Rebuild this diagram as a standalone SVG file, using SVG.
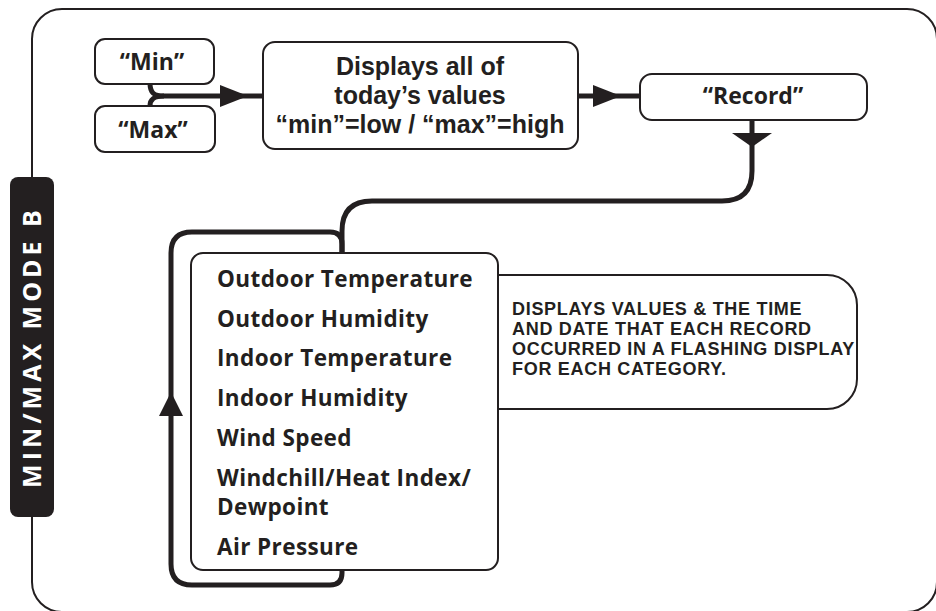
<svg xmlns="http://www.w3.org/2000/svg" width="936" height="611" viewBox="0 0 936 611">
<style>
.box{fill:#fff;stroke:#231f20;stroke-width:2}
.t{font-family:"Open Sans","Liberation Sans",Arial,sans-serif;font-weight:700;fill:#231f20}
.m{font-family:"Liberation Sans",Arial,sans-serif;font-weight:700;fill:#231f20;font-size:25px;text-anchor:middle}
.n{font-family:"Liberation Sans",Arial,sans-serif;font-weight:700;fill:#231f20;font-size:18px;letter-spacing:0.7px}
.c{text-anchor:middle}
.con{fill:none;stroke:#231f20;stroke-width:5;stroke-linecap:butt}
.ah{fill:#231f20}
</style>
<rect x="32" y="9" width="905" height="603" rx="30" fill="#fff" stroke="#231f20" stroke-width="2"/>
<g id="side-label">
<rect x="10" y="177" width="44" height="340" rx="8" fill="#231f20"/>
<text class="t c" transform="translate(41,347) rotate(-90)" font-size="25" letter-spacing="4" style="fill:#fff">MIN/MAX MODE B</text>
</g>
<g id="connectors">
<path class="con" d="M150,83 C150,93 154,96 164,96 L228,96"/>
<path class="con" d="M150,106 C150,99 154,96 164,96"/>
<polygon class="ah" points="220,85 248,96 220,107"/>
<line class="con" x1="240" y1="96" x2="263" y2="96"/>
<line class="con" x1="578" y1="96" x2="640" y2="96"/>
<polygon class="ah" points="593,85 621,96 593,107"/>
<path class="con" d="M752,120 L752,171 Q752,201 722,201 L372,201 Q342,201 342,231 L342,253"/>
<polygon class="ah" points="732,133 772,133 752,147"/>
<path class="con" d="M342,253 L342,244 Q342,232 330,232 L192,232 Q171,232 171,253 L171,564 Q171,585 192,585 L330,585 Q342,585 342,573 L342,570"/>
<polygon class="ah" points="159,416 183,416 171,392"/>
</g>
<g id="min">
<rect class="box" x="95" y="39" width="119" height="45" rx="10"/>
<text class="t c" x="152" y="70" font-size="23">“Min”</text>
</g>
<g id="max">
<rect class="box" x="95" y="106" width="120" height="46" rx="10"/>
<text class="t c" x="153" y="138" font-size="23">“Max”</text>
</g>
<g id="today">
<rect class="box" x="263" y="42" width="315" height="107" rx="12"/>
<text class="m" x="420" y="75">Displays all of</text>
<text class="m" x="420" y="104">today’s values</text>
<text class="m" x="420" y="133">“min”=low / “max”=high</text>
</g>
<g id="record">
<rect class="box" x="640" y="74" width="227" height="46" rx="12"/>
<text class="t c" x="753" y="104" font-size="23">“Record”</text>
</g>
<g id="callout">
<path class="box" d="M498,275 L827,275 A30,30 0 0 1 857,305 L857,379 A30,30 0 0 1 827,409 L498,409"/>
<text class="n" x="512" y="315">DISPLAYS VALUES &amp; THE TIME</text>
<text class="n" x="512" y="335">AND DATE THAT EACH RECORD</text>
<text class="n" x="512" y="355">OCCURRED IN A FLASHING DISPLAY</text>
<text class="n" x="512" y="375">FOR EACH CATEGORY.</text>
</g>
<g id="list">
<rect class="box" x="191" y="253" width="307" height="317" rx="12"/>
<g class="t" font-size="22.5" letter-spacing="0.4">
<text x="217" y="287">Outdoor Temperature</text>
<text x="217" y="327">Outdoor Humidity</text>
<text x="217" y="366">Indoor Temperature</text>
<text x="217" y="406">Indoor Humidity</text>
<text x="217" y="446">Wind Speed</text>
<text x="217" y="486">Windchill/Heat Index/</text>
<text x="217" y="515">Dewpoint</text>
<text x="217" y="555">Air Pressure</text>
</g>
</g>
</svg>
